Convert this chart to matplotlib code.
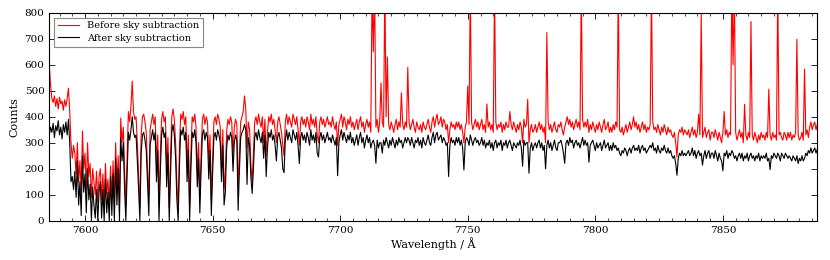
import numpy as np
import matplotlib
matplotlib.use("Agg")
import matplotlib.pyplot as plt
from matplotlib.ticker import MultipleLocator

# Wavelength grid start and step (Angstrom)
wl_start = 7586.0
wl_step = 0.5

# Counts before sky subtraction (one row = 10 Angstrom)
before = [
    600, 520, 470, 455, 480, 440, 470, 430, 475, 450, 460, 425, 465, 440, 470, 510, 420, 300, 240, 290,
    260, 180, 300, 150, 230, 110, 345, 200, 260, 120, 300, 170, 220, 90, 200, 150, 100, 190, 70, 170,
    200, 80, 180, 60, 220, 100, 160, 50, 210, 90, 230, 60, 300, 140, 250, 60, 395, 300, 360, 200,
    60, 250, 420, 380, 440, 537, 420, 390, 400, 300, 180, 50, 330, 400, 410, 380, 340, 200, 90, 350,
    380, 410, 370, 400, 220, 330, 60, 250, 390, 420, 380, 400, 200, 320, 50, 240, 400, 430, 390, 300,
    150, 40, 280, 410, 390, 420, 370, 400, 210, 330, 50, 260, 400, 380, 410, 360, 190, 300, 80, 260,
    390, 410, 370, 400, 380, 230, 330, 80, 240, 380, 400, 370, 410, 390, 360, 200, 350, 120, 190, 340,
    390, 370, 400, 380, 250, 360, 390, 370, 130, 260, 380, 400, 420, 480, 430, 280, 380, 350, 220, 150,
    260, 380, 400, 370, 410, 380, 360, 400, 300, 390, 250, 340, 400, 380, 410, 370, 390, 350, 300, 380,
    400, 370, 340, 290, 250, 380, 410, 370, 400, 380, 360, 410, 390, 370, 400, 350, 290, 380, 400, 370,
    390, 360, 400, 380, 350, 410, 370, 390, 360, 400, 330, 300, 380, 400, 370, 390, 360, 380, 400, 370,
    380, 360, 400, 370, 350, 380, 290, 370, 390, 410, 360, 400, 380, 350, 390, 370, 400, 360, 380, 350,
    370, 390, 350, 380, 400, 360, 380, 340, 370, 390, 360, 380, 340, 900, 650, 900, 360, 390, 340, 380,
    530, 380, 360, 900, 400, 630, 370, 350, 380, 360, 340, 370, 390, 350, 380, 360, 492, 370, 350, 380,
    360, 590, 380, 350, 370, 390, 360, 340, 380, 360, 350, 370, 340, 380, 360, 350, 370, 390, 360, 340,
    380, 400, 360, 390, 410, 370, 380, 400, 360, 390, 380, 350, 370, 300, 350, 380, 360, 370, 350, 380,
    360, 380, 350, 370, 340, 300, 360, 380, 518, 370, 900, 380, 350, 370, 390, 360, 380, 350, 370, 390,
    350, 370, 340, 449, 360, 380, 350, 370, 340, 900, 380, 350, 370, 360, 380, 340, 370, 350, 380, 360,
    360, 420, 370, 350, 380, 360, 340, 370, 350, 380, 360, 300, 390, 360, 370, 467, 300, 350, 370, 340,
    350, 370, 340, 360, 380, 350, 370, 340, 360, 300, 724, 380, 350, 370, 340, 360, 380, 350, 340, 370,
    360, 380, 350, 330, 360, 380, 400, 370, 390, 360, 380, 350, 370, 390, 360, 380, 350, 900, 390, 360,
    380, 360, 390, 340, 370, 350, 380, 360, 340, 370, 350, 380, 360, 340, 370, 390, 350, 360, 380, 340,
    360, 340, 370, 350, 380, 360, 900, 350, 340, 360, 330, 350, 370, 340, 360, 380, 350, 370, 400, 360,
    380, 350, 370, 340, 360, 380, 350, 370, 340, 360, 350, 370, 900, 380, 350, 360, 340, 370, 350, 330,
    360, 340, 370, 350, 330, 360, 340, 350, 330, 320, 340, 300, 246, 330, 350, 340, 360, 330, 350, 340,
    330, 350, 320, 340, 360, 330, 350, 320, 340, 410, 330, 795, 320, 340, 360, 320, 340, 350, 310, 340,
    340, 320, 350, 330, 310, 340, 320, 300, 340, 420, 330, 350, 320, 340, 330, 900, 600, 900, 340, 310,
    330, 350, 320, 340, 300, 448, 330, 310, 340, 320, 766, 330, 310, 340, 320, 300, 330, 310, 340, 320,
    330, 310, 340, 320, 506, 330, 310, 340, 320, 330, 310, 900, 330, 340, 320, 310, 340, 330, 310, 340,
    320, 340, 310, 330, 320, 340, 698, 330, 310, 320, 340, 310, 583, 330, 350, 320, 360, 380, 350, 370,
    380, 350, 370,
]

# Counts after sky subtraction
after = [
    330, 360, 340, 375, 320, 365, 345, 385, 330, 360, 315, 370, 340, 380, 330, 390, 300, 150, 170, 120,
    190, 90, 230, 60, 150, 20, 250, 110, 180, 30, 200, 80, 140, 0, 130, 60, 10, 120, 0, 110,
    150, 10, 120, 0, 160, 30, 110, 0, 170, 20, 180, 0, 240, 60, 200, 0, 320, 230, 300, 120,
    0, 180, 340, 310, 350, 400, 340, 320, 330, 230, 120, 0, 260, 330, 340, 310, 270, 140, 20, 290,
    320, 350, 310, 340, 150, 270, 0, 180, 330, 360, 320, 340, 130, 260, 0, 170, 340, 370, 330, 240,
    80, 0, 210, 350, 330, 360, 310, 340, 150, 270, 0, 200, 340, 320, 350, 300, 130, 240, 30, 200,
    330, 350, 310, 340, 320, 160, 270, 20, 180, 320, 340, 310, 350, 330, 300, 150, 290, 60, 110, 280,
    330, 310, 340, 320, 190, 300, 330, 310, 40, 190, 320, 340, 350, 370, 350, 140, 320, 290, 170, 105,
    200, 320, 340, 310, 350, 320, 300, 340, 240, 330, 170, 280, 340, 320, 350, 310, 330, 290, 230, 320,
    340, 310, 280, 200, 185, 310, 350, 310, 340, 320, 300, 350, 330, 310, 340, 290, 220, 320, 340, 310,
    330, 300, 340, 320, 290, 350, 310, 330, 300, 340, 260, 245, 320, 340, 310, 330, 300, 320, 340, 310,
    320, 300, 330, 310, 290, 320, 173, 300, 330, 350, 310, 340, 320, 300, 330, 310, 340, 300, 320, 290,
    310, 330, 290, 320, 340, 300, 320, 280, 310, 330, 300, 320, 280, 300, 310, 290, 221, 310, 280, 300,
    300, 260, 310, 290, 320, 300, 280, 310, 290, 320, 300, 280, 310, 290, 320, 300, 310, 280, 300, 320,
    300, 320, 310, 290, 320, 300, 280, 310, 300, 320, 290, 310, 280, 320, 300, 290, 310, 330, 300, 290,
    320, 340, 300, 330, 340, 310, 320, 330, 300, 320, 310, 290, 300, 170, 290, 320, 300, 310, 290, 320,
    300, 320, 290, 310, 280, 195, 300, 320, 310, 290, 330, 310, 290, 310, 320, 300, 310, 290, 300, 320,
    290, 310, 280, 300, 290, 310, 280, 300, 270, 300, 310, 280, 300, 290, 310, 270, 300, 290, 310, 280,
    300, 310, 290, 270, 300, 290, 280, 300, 290, 310, 280, 210, 310, 290, 300, 300, 183, 280, 300, 270,
    290, 300, 280, 300, 310, 280, 300, 270, 290, 200, 290, 310, 280, 300, 270, 290, 310, 280, 270, 300,
    300, 310, 290, 260, 221, 300, 310, 290, 320, 300, 310, 280, 300, 310, 290, 300, 280, 300, 320, 290,
    310, 290, 300, 225, 290, 300, 310, 290, 270, 300, 280, 290, 300, 270, 290, 310, 280, 290, 300, 270,
    290, 270, 300, 280, 290, 270, 280, 260, 250, 270, 260, 280, 270, 250, 270, 280, 260, 280, 290, 270,
    280, 270, 290, 260, 280, 290, 270, 280, 260, 270, 280, 290, 280, 300, 270, 280, 260, 290, 270, 260,
    280, 270, 290, 270, 260, 280, 260, 270, 250, 240, 250, 220, 175, 240, 260, 250, 270, 250, 260, 250,
    260, 270, 250, 260, 280, 250, 270, 240, 260, 270, 250, 260, 214, 250, 270, 240, 260, 270, 240, 260,
    260, 240, 270, 250, 230, 260, 240, 230, 192, 260, 250, 270, 240, 260, 250, 270, 260, 240, 250, 230,
    250, 260, 240, 260, 230, 250, 240, 260, 230, 250, 260, 240, 250, 230, 250, 240, 260, 230, 250, 240,
    250, 240, 260, 230, 240, 197, 250, 240, 260, 250, 240, 260, 250, 230, 260, 250, 240, 260, 250, 240,
    250, 240, 230, 250, 240, 230, 250, 220, 240, 230, 250, 230, 240, 260, 250, 270, 260, 280, 260, 270,
    280, 260, 275,
]

labels = ["Before sky subtraction", "After sky subtraction"]
colors = ["#ff0000", "#000000"]

wl = wl_start + wl_step * np.arange(len(before))

plt.rcParams['font.family'] = ['DejaVu Serif']
plt.rcParams['mathtext.fontset'] = 'dejavuserif'

fig = plt.figure(figsize=(8.3, 2.6), dpi=100)
ax = fig.add_axes([0.0594, 0.151, 0.9253, 0.80])

ax.plot(wl, before, color=colors[0], lw=0.8, label=labels[0])
ax.plot(wl, after, color=colors[1], lw=0.8, label=labels[1])

ax.set_xlim(7586, 7887)
ax.set_ylim(0, 800)
ax.xaxis.set_major_locator(MultipleLocator(50))
ax.xaxis.set_minor_locator(MultipleLocator(5))
ax.yaxis.set_major_locator(MultipleLocator(100))
ax.tick_params(which='both', direction='in', top=True, right=True, labelsize=7.5)
ax.tick_params(which='major', length=4, width=0.6)
ax.tick_params(which='minor', length=2, width=0.5)
for s in ax.spines.values():
    s.set_linewidth(0.8)

ax.set_xlabel("Wavelength / Å", fontsize=8, labelpad=2)
ax.set_ylabel("Counts", fontsize=8, labelpad=4)

leg = ax.legend(loc='upper left', fontsize=7, handlelength=2.2, borderpad=0.4,
                labelspacing=0.35, fancybox=False, framealpha=1)
leg.get_frame().set_edgecolor('#888888')
leg.get_frame().set_linewidth(0.8)

fig.savefig("out.png", dpi=100)
